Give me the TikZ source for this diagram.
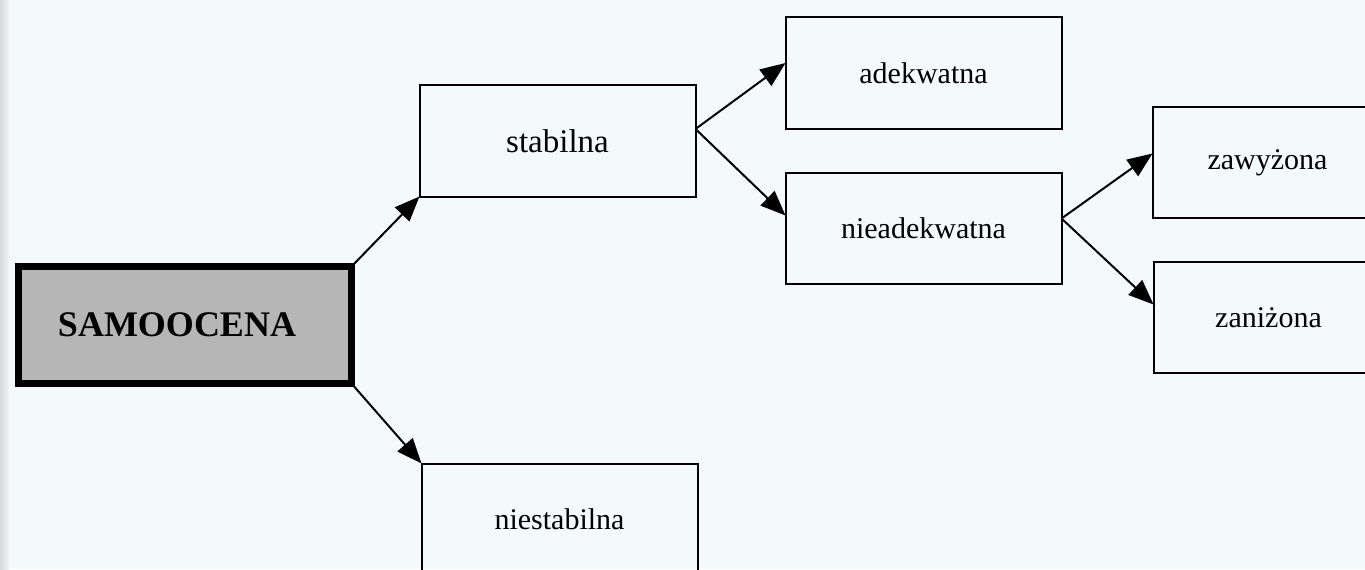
\documentclass[tikz,border=0pt]{standalone}
\usepackage{fontspec}
\setmainfont{Liberation Serif}
\usetikzlibrary{positioning, arrows.meta}
\definecolor{paper}{RGB}{244,249,252}
\definecolor{rootgray}{RGB}{182,182,182}
\tikzstyle{root}=[rectangle, draw=black, fill=rootgray, line width=3.5pt, outer sep=0pt, minimum width=166.5pt, minimum height=58.5pt, font=\fontsize{18}{21}\selectfont\bfseries]
\tikzstyle{box}=[rectangle, draw=black, line width=1pt, outer sep=0pt, minimum width=138pt, minimum height=55.5pt, font=\fontsize{15}{18}\selectfont]
\tikzstyle{leaf}=[box, minimum width=115pt]
\tikzstyle{arr}=[line width=1pt, -{Triangle[length=12.5pt, width=10pt]}]

\begin{document}
\begin{tikzpicture}
            %page of the scan
            \useasboundingbox (0,0) rectangle (682.5pt,284.5pt);
            \clip (0,0) rectangle (682.5pt,284.5pt);
            \fill[paper] (0,0) rectangle (682.5pt,284.5pt);
            \fill[left color=black!15, right color=paper] (0,0) rectangle (5pt,284.5pt);

            %Root and first level
            \node[root](sam) at (92.5pt,122pt){SAMOOCENA\kern8pt};
            \node[box, above right = 35pt and 34pt of sam.north east, font=\fontsize{16.5}{19}\selectfont](stabilna){stabilna};
            \node[box, below right = 40pt and 35pt of sam.south east](niestabilna){niestabilna};
            \draw[arr] (sam.north east) to (stabilna.south west);
            \draw[arr] (sam.south east) to (niestabilna.north west);

            %Second level
            \node[box, above right = 34pt and 45pt of stabilna.east, anchor=west](adekwatna){adekwatna};
            \node[box, below right = 43.75pt and 45pt of stabilna.east, anchor=west](nieadekwatna){nieadekwatna};
            \draw[arr] ([yshift=6pt]stabilna.east) to ([yshift=5pt]adekwatna.west);
            \draw[arr] ([yshift=6pt]stabilna.east) to ([yshift=6.5pt]nieadekwatna.west);

            %Third level
            \node[leaf, above right = 33pt and 45.5pt of nieadekwatna.east, anchor=west](zawyzona){zawyżona};
            \node[leaf, below right = 44.5pt and 46pt of nieadekwatna.east, anchor=west](zanizona){zaniżona};
            \draw[arr] ([yshift=5pt]nieadekwatna.east) to ([yshift=4.5pt]zawyzona.west);
            \draw[arr] ([yshift=5pt]nieadekwatna.east) to ([yshift=6.5pt]zanizona.west);
        \end{tikzpicture}
\end{document}
